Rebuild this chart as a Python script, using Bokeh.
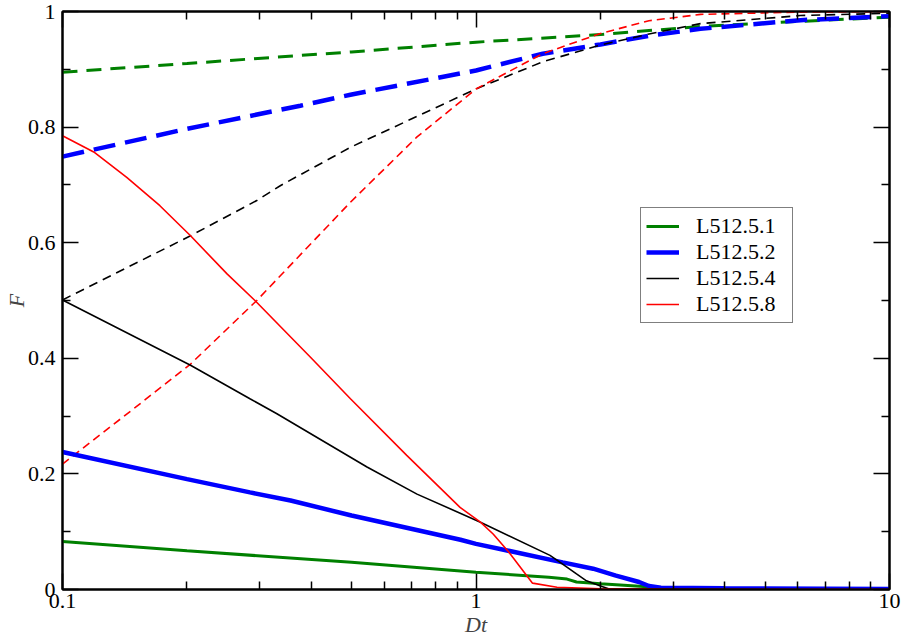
from bokeh.plotting import figure
from bokeh.models import (Range1d, FixedTicker, LinearAxis, LogAxis, Legend, LegendItem,
                          CustomJSTickFormatter)
from bokeh.embed import file_html
from bokeh.resources import INLINE

# ---------------- data ----------------
x_g_s = [0.1, 0.2, 0.5, 1.0, 1.5, 1.66, 1.75, 2.0, 2.54, 3.0, 4.0, 10.0]
y_g_s = [0.083, 0.067, 0.047, 0.030, 0.021, 0.018, 0.013, 0.010, 0.005, 0.002, 0.001, 0.0005]
x_g_d = [0.1, 0.2, 0.376, 0.5, 1.0, 2.0, 2.62, 3.49, 6.09, 10.0]
y_g_d = [0.895, 0.910, 0.924, 0.930, 0.947, 0.960, 0.967, 0.974, 0.983, 0.990]

x_b_s = [0.1, 0.2, 0.284, 0.356, 0.5, 0.917, 1.0, 1.62, 1.92, 2.18, 2.48, 2.62, 2.8, 4.0, 10.0]
y_b_s = [0.238, 0.191, 0.168, 0.154, 0.128, 0.086, 0.079, 0.047, 0.036, 0.024, 0.013, 0.006, 0.003, 0.002, 0.001]
x_b_d = [0.1, 0.2, 0.376, 0.497, 1.0, 1.45, 2.0, 2.62, 3.49, 6.09, 10.0]
y_b_d = [0.749, 0.797, 0.837, 0.856, 0.898, 0.927, 0.943, 0.958, 0.970, 0.985, 0.992]

x_k_s = [0.1, 0.204, 0.284, 0.33, 0.545, 0.72, 1.025, 1.51, 1.62, 1.75, 1.85, 2.0, 2.1, 10.0]
y_k_s = [0.501, 0.388, 0.330, 0.304, 0.212, 0.165, 0.1165, 0.059, 0.044, 0.027, 0.015, 0.006, 0.001, 0.0]
x_k_d = [0.1, 0.204, 0.295, 0.337, 0.497, 1.0, 1.45, 2.0, 2.62, 3.49, 6.09, 10.0]
y_k_d = [0.501, 0.612, 0.673, 0.699, 0.765, 0.866, 0.913, 0.942, 0.961, 0.979, 0.993, 0.997]

x_r_s = [0.1, 0.119, 0.143, 0.172, 0.204, 0.25, 0.292, 0.4, 0.497, 0.68, 0.915, 1.025, 1.1, 1.2,
         1.37, 1.57, 2.0, 3.0, 10.0]
y_r_s = [0.785, 0.757, 0.713, 0.664, 0.612, 0.546, 0.500, 0.400, 0.330, 0.232, 0.142, 0.1165, 0.096, 0.065,
         0.011, 0.004, 0.001, 0.0, 0.0]
x_r_d = [0.1, 0.15, 0.204, 0.295, 0.497, 0.72, 1.0, 1.45, 2.0, 2.62, 3.49, 6.09, 10.0]
y_r_d = [0.217, 0.315, 0.390, 0.500, 0.670, 0.783, 0.866, 0.927, 0.962, 0.984, 0.995, 0.999, 1.0]

series_names = ["L512.5.1", "L512.5.2", "L512.5.4", "L512.5.8"]

x_ticks = [0.1, 1.0, 10.0]
x_minor = [0.2, 0.3, 0.4, 0.5, 0.6, 0.7, 0.8, 0.9, 2, 3, 4, 5, 6, 7, 8, 9]
x_tick_labels = ["0.1", "1", "10"]
y_ticks = [0.0, 0.2, 0.4, 0.6, 0.8, 1.0]
y_minor = [0.1, 0.3, 0.5, 0.7, 0.9]
y_tick_labels = ["0", "0.2", "0.4", "0.6", "0.8", "1"]

FONT = "Liberation Serif"
FS = "22px"

p = figure(width=903, height=639, x_axis_type="log",
           x_range=Range1d(0.1, 10), y_range=Range1d(0, 1),
           output_backend="svg", toolbar_location=None,
           min_border_left=62, min_border_right=14,
           min_border_top=11, min_border_bottom=50)
p.grid.visible = False
p.outline_line_color = "black"
p.outline_line_width = 2
p.background_fill_color = "white"
p.border_fill_color = "white"

def style_axis(ax, show_labels=True):
    ax.axis_line_width = 2
    ax.axis_line_color = "black"
    ax.major_tick_in = 16
    ax.major_tick_out = 0
    ax.minor_tick_in = 8
    ax.minor_tick_out = 0
    ax.major_tick_line_width = 1.5
    ax.minor_tick_line_width = 1.5
    ax.major_label_text_font = FONT
    ax.major_label_text_color = "black"
    ax.major_label_text_font_size = FS
    if not show_labels:
        ax.major_label_text_font_size = "2px"
        ax.major_label_text_alpha = 0
        ax.major_label_standoff = 0

def label_formatter(tvals, tlabs):
    return CustomJSTickFormatter(args=dict(tv=tvals, tl=tlabs), code="""
        for (let i = 0; i < tv.length; i++) {
            if (Math.abs(tv[i] - tick) < 1e-9 * Math.max(1, Math.abs(tick))) return tl[i];
        }
        return String(tick);
    """)

xa = p.xaxis[0]
xa.ticker = FixedTicker(ticks=x_ticks, minor_ticks=x_minor)
xa.formatter = label_formatter(x_ticks, x_tick_labels)
style_axis(xa)
xa.major_label_standoff = 4
xa.axis_label = "Dt"
xa.axis_label_text_font = FONT
xa.axis_label_text_font_size = FS
xa.axis_label_text_font_style = "italic"
xa.axis_label_standoff = 1

ya = p.yaxis[0]
ya.ticker = FixedTicker(ticks=y_ticks, minor_ticks=y_minor)
ya.formatter = label_formatter(y_ticks, y_tick_labels)
style_axis(ya)
ya.major_label_standoff = 7
ya.axis_label = "F"
ya.axis_label_text_font = FONT
ya.axis_label_text_font_size = FS
ya.axis_label_text_font_style = "italic"
ya.axis_label_standoff = -4

top_ax = LogAxis(ticker=FixedTicker(ticks=x_ticks, minor_ticks=x_minor))
style_axis(top_ax, show_labels=False)
p.add_layout(top_ax, "above")
right_ax = LinearAxis(ticker=FixedTicker(ticks=y_ticks, minor_ticks=y_minor))
style_axis(right_ax, show_labels=False)
p.add_layout(right_ax, "right")

GREEN = "#008000"
BLUE = "#0000ff"
BLACK = "#000000"
RED = "#ff0000"

# dashed curves
p.line(x_g_d, y_g_d, line_color=GREEN, line_width=3, line_dash="15 9")
p.line(x_b_d, y_b_d, line_color=BLUE, line_width=4.5, line_dash="22 10")
p.line(x_k_d, y_k_d, line_color=BLACK, line_width=1.6, line_dash="9 6")
p.line(x_r_d, y_r_d, line_color=RED, line_width=1.6, line_dash="8 5")

# solid curves
rg = p.line(x_g_s, y_g_s, line_color=GREEN, line_width=3)
rb = p.line(x_b_s, y_b_s, line_color=BLUE, line_width=4.5)
rk = p.line(x_k_s, y_k_s, line_color=BLACK, line_width=1.6)
rr = p.line(x_r_s, y_r_s, line_color=RED, line_width=1.6)

legend = Legend(items=[LegendItem(label=n, renderers=[r]) for n, r in zip(series_names, [rg, rb, rk, rr])],
                location=(578, 266))
legend.label_text_font = FONT
legend.label_text_font_size = FS
legend.label_text_color = "black"
legend.glyph_width = 33
legend.glyph_height = 20
legend.label_height = 20
legend.label_width = 91
legend.label_standoff = 17
legend.spacing = -6
legend.padding = 5
legend.margin = 0
legend.border_line_color = "black"
legend.border_line_width = 1.5
legend.background_fill_color = "white"
legend.background_fill_alpha = 1.0
p.add_layout(legend, "center")

open("out.html", "w").write(file_html(p, INLINE))
